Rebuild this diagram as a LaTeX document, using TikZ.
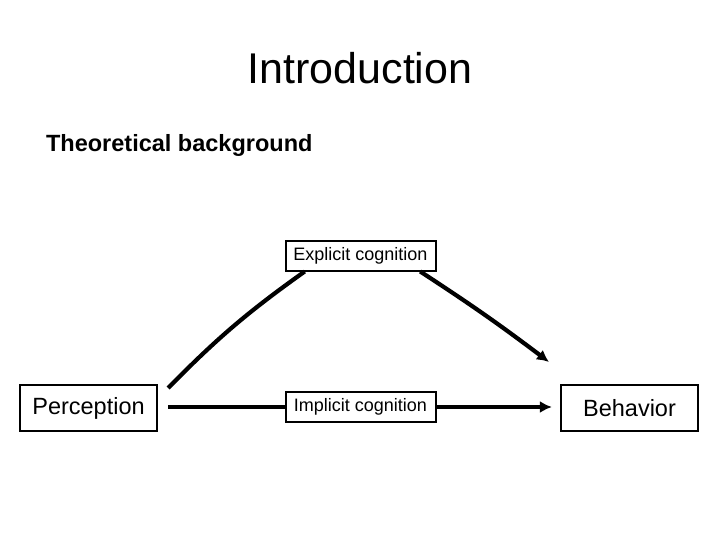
\documentclass[tikz,border=0pt]{standalone}
\usepackage{fontspec}
\setmainfont{Liberation Sans}
\usetikzlibrary{arrows.meta}
\tikzset{
  every picture/.style={
    line width=4.2pt,
    >={Latex[width=12pt, length=12pt]}
  },
  bigbox/.style={
    draw, line width=2.2pt, minimum width=137pt, minimum height=46pt,
    inner sep=0pt, font=\fontsize{23.5}{28}\selectfont
  },
  smallbox/.style={
    draw, line width=2pt, minimum width=150pt, minimum height=30pt,
    inner sep=0pt, font=\fontsize{18}{21}\selectfont
  }
}
\begin{document}
\begin{tikzpicture}[x=1pt,y=-1pt]
      \useasboundingbox (0,0) rectangle (720,540);
      \node (title) at (360,68) {\fontsize{43}{50}\selectfont Introduction};
      \node [anchor=west,inner sep=0pt] (sub) at (44,145)
        {\fontsize{23.5}{28}\selectfont\bfseries Theoretical background};
      \node [bigbox] (perc) at (88.5,408) {Perception};
      \node [bigbox] (beh) at (629.5,408) {Behavior};
      \node [smallbox] (expl) at (360.5,255.5) {Explicit cognition};
      \node [smallbox] (impl) at (360.5,407) {Implicit cognition};
      \coordinate (behtop) at (549,362);
      \draw ([xshift=10pt]perc.east |- impl.west) -- (impl.west);
      \draw [->] (impl.east) -- ([xshift=-8pt]beh.west |- impl.east);
      \draw ([xshift=10pt]perc.16) to [bend left=5] (expl.196);
      \draw [->] (expl.-15) to [bend left=2] (behtop);
    \end{tikzpicture}
\end{document}
